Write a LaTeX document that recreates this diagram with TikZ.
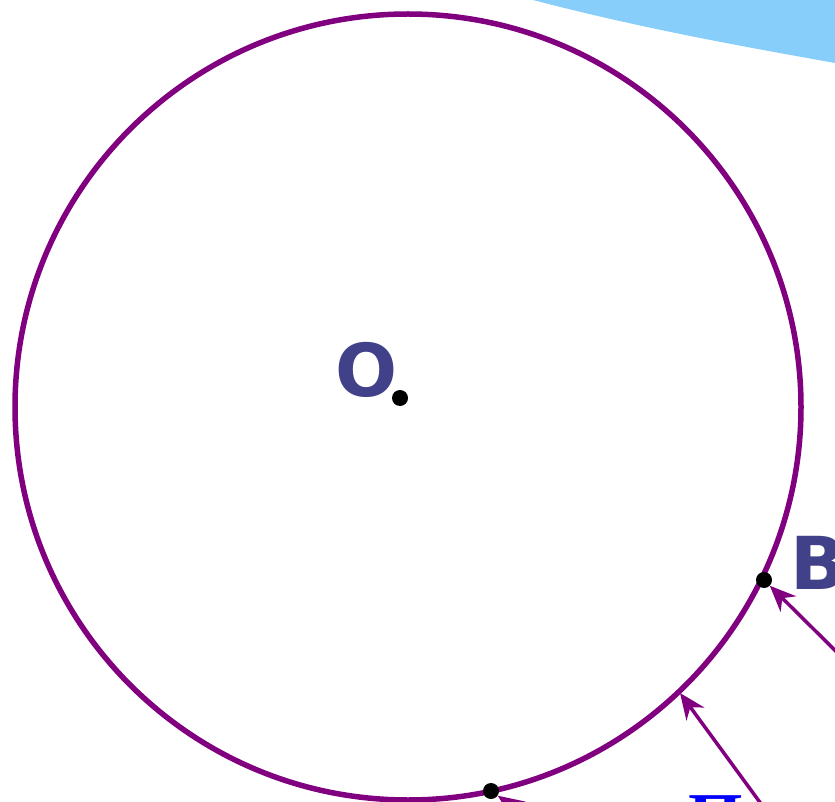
\documentclass[tikz,border=0pt]{standalone}
\usepackage{fontspec}
\usetikzlibrary{arrows.meta}
\newfontfamily\labelfont{DejaVu Sans}
\newfontfamily\cyrserif{Liberation Serif}
\definecolor{purp}{RGB}{128,0,128}
\definecolor{labblue}{RGB}{65,65,137}
\definecolor{skyb}{RGB}{135,206,250}
\tikzset{
  dot/.style={circle,fill=black,inner sep=0pt,minimum size=16pt},
  ptlabel/.style={inner sep=0pt,anchor=base west,text=labblue,font=\labelfont\bfseries\fontsize{73}{80}\selectfont},
  arr/.style={purp,line width=3.5pt,-{Stealth[length=26pt,width=22pt]}},
  rim/.style={purp,line width=5.5pt}
}
\begin{document}
\begin{tikzpicture}[x=1pt,y=-1pt]
\useasboundingbox (0,0) rectangle (835,802);
\clip (0,0) rectangle (835,802);
\fill[skyb] (533,0) .. controls (640,28) and (740,46) .. (835,63) -- (835,0) -- cycle;
\coordinate (ctr) at (408,407);
\draw[rim] (ctr) circle (393pt);
\node[dot] (O) at (400,398) {};
\node[dot] (B) at (764,580) {};
\node[dot] (P) at (491,791) {};
\node[ptlabel] (Olab) at (335,396) {O};
\node[ptlabel] (Blab) at (790,589) {B};
\node[inner sep=0pt,anchor=base west,text=blue,font=\cyrserif\bfseries\fontsize{70}{80}\selectfont] (Pi) at (688,841) {П};
\coordinate (T) at (680,693);
\coordinate (S1) at (865,680);
\coordinate (S2) at (786,838);
\coordinate (S3) at (655,906);
\draw[arr] (S1) -- (B);
\draw[arr] (S2) -- (T);
\draw[arr] (S3) -- (P);
\end{tikzpicture}
\end{document}
